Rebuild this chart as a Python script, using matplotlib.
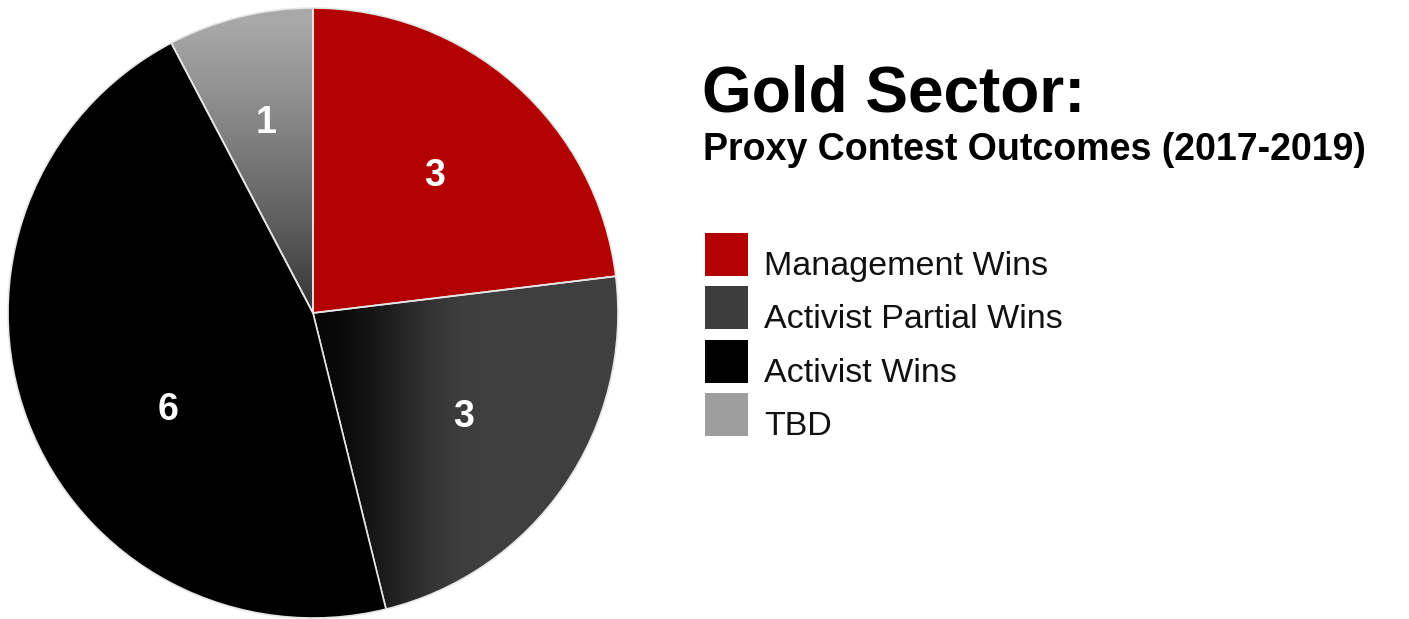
import numpy as np
import matplotlib
matplotlib.use('Agg')
import matplotlib.pyplot as plt
from matplotlib.patches import Rectangle
from matplotlib.colors import LinearSegmentedColormap

plt.rcParams['font.family'] = ['Liberation Sans', 'DejaVu Sans']

# data
labels = ['Management Wins', 'Activist Partial Wins', 'Activist Wins', 'TBD']
counts = [3, 3, 6, 1]
legend_colors = ['#b30000', '#3c3c3c', '#000000', '#9e9e9e']
title = 'Gold Sector:'
subtitle = 'Proxy Contest Outcomes (2017-2019)'

W, H = 1409, 619
fig = plt.figure(figsize=(W / 100, H / 100), dpi=100)
fig.patch.set_facecolor('white')

# pie axes: center ~(313,313) px, radius ~305 px
ax = fig.add_axes([8 / W, (H - 618) / H, 610 / W, 610 / H])
wedges, _ = ax.pie(counts, colors=legend_colors, startangle=90, counterclock=False,
                   radius=1.0, wedgeprops=dict(edgecolor='#e6e6e6', linewidth=1.2))
ax.set_xlim(-1, 1)
ax.set_ylim(-1, 1)
ax.set_aspect('equal')
ax.axis('off')

# gradient fills for partial wins (horizontal) and TBD (vertical)
n = 400
gx, gy = np.meshgrid(np.linspace(-1, 1, n), np.linspace(-1, 1, n))
t = np.clip(gx / 0.55, 0, 1)
grad_partial = t * t * (3 - 2 * t)
cmap_partial = LinearSegmentedColormap.from_list('p', ['#060606', '#3f3f3f'])
grad_tbd = np.clip(gy / 0.95, 0, 1) ** 0.8
cmap_tbd = LinearSegmentedColormap.from_list('t', ['#2e2e2e', '#a8a8a8'])

for w, g, cm in [(wedges[1], grad_partial, cmap_partial), (wedges[3], grad_tbd, cmap_tbd)]:
    w.set_facecolor('none')
    im = ax.imshow(g, cmap=cm, extent=(-1, 1, -1, 1), origin='lower',
                   vmin=0, vmax=1, zorder=w.get_zorder() - 0.1, interpolation='bilinear')
    im.set_clip_path(w)

# count labels
label_r = [0.60, 0.60, 0.57, 0.64]
label_shift = [0, 0, 13, 0]
for w, c, r, s in zip(wedges, counts, label_r, label_shift):
    ang = np.deg2rad((w.theta1 + w.theta2) / 2 + s)
    ax.text(r * np.cos(ang), r * np.sin(ang), str(c), color='white', fontsize=27,
            fontweight='bold', ha='center', va='center', zorder=5)

# title
fig.text(702 / W, 1 - 112 / H, title, fontsize=46, fontweight='bold', ha='left',
         va='baseline', color='black')
fig.text(703 / W, 1 - 160 / H, subtitle, fontsize=27, fontweight='bold', ha='left',
         va='baseline', color='black')

# legend
lax = fig.add_axes([0, 0, 1, 1])
lax.set_xlim(0, W)
lax.set_ylim(H, 0)
lax.axis('off')
for i, (lab, col) in enumerate(zip(labels, legend_colors)):
    top = 233 + i * 53.3
    lax.add_patch(Rectangle((705, top), 43, 43, facecolor=col, edgecolor='none'))
    lax.text(764, top + 42, lab, fontsize=24.5, ha='left', va='baseline', color='#111111')

fig.savefig('out.png', dpi=100, facecolor='white')
